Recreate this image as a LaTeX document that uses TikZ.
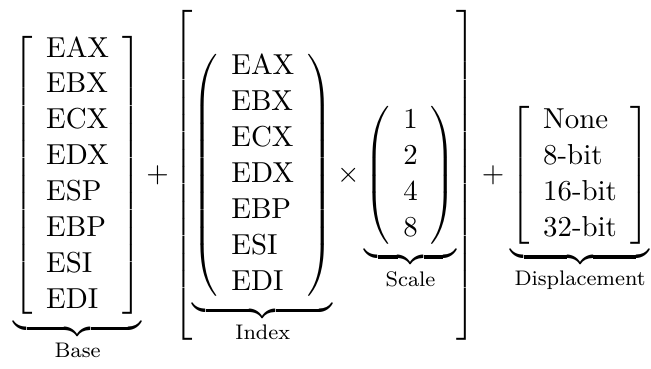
\documentclass[11pt,tikz,border=0pt]{standalone}
\usepackage{amsmath}
\begin{document}
\begin{tikzpicture}
   \node[inner sep=0pt] (formula) at (0,0) {$\displaystyle
     \underbrace{\left[\begin{array}{l}
       \text{EAX}\\ \text{EBX}\\ \text{ECX}\\ \text{EDX}\\
       \text{ESP}\\ \text{EBP}\\ \text{ESI}\\ \text{EDI}
     \end{array}\right]}_{\text{Base}}
     +
     \left[\underbrace{\left(\begin{array}{l}
       \text{EAX}\\ \text{EBX}\\ \text{ECX}\\ \text{EDX}\\
       \text{EBP}\\ \text{ESI}\\ \text{EDI}
     \end{array}\right)}_{\text{Index}}
     \times
     \underbrace{\left(\begin{array}{c}
       1\\ 2\\ 4\\ 8
     \end{array}\right)}_{\text{Scale}}\right]
     +
     \underbrace{\left[\begin{array}{l}
       \text{None}\\ \text{8-bit}\\ \text{16-bit}\\ \text{32-bit}
     \end{array}\right]}_{\text{Displacement}}$};
   \useasboundingbox ([xshift=-5pt,yshift=-3pt]formula.south west)
     rectangle ([xshift=0.4pt,yshift=3.9pt]formula.north east);
 \end{tikzpicture}
\end{document}
